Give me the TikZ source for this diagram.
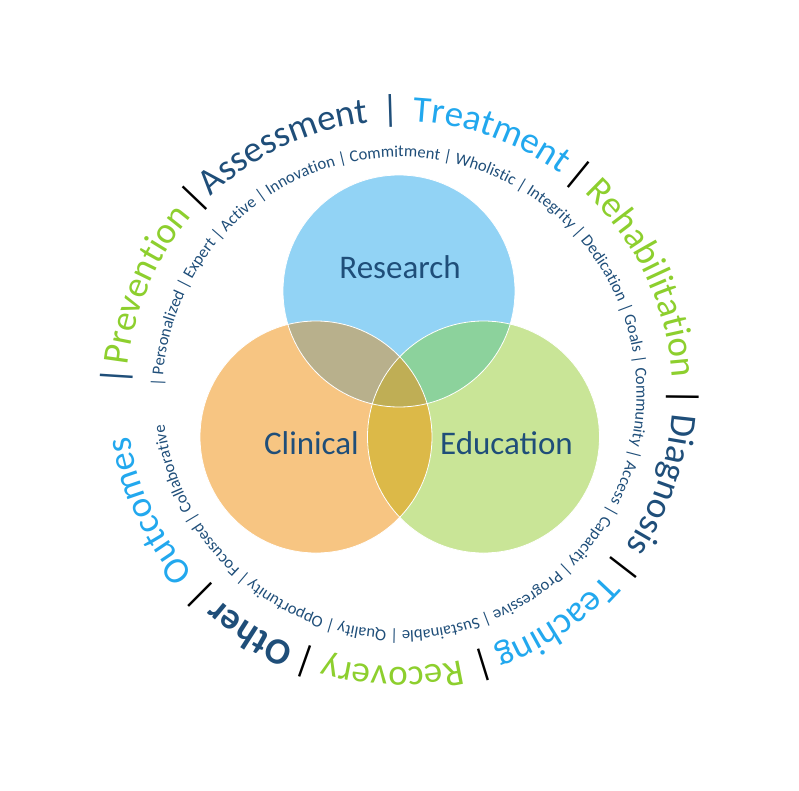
\documentclass[tikz,border=0pt]{standalone}
\usepackage{fontspec}
\setmainfont{Carlito}
\usetikzlibrary{decorations.text}
\definecolor{cnavy}{HTML}{1F4E79}
\definecolor{csky}{HTML}{22A8EE}
\definecolor{clime}{HTML}{8DCF2E}
\definecolor{cres}{HTML}{92D3F5}
\definecolor{ccli}{HTML}{F7C582}
\definecolor{cedu}{HTML}{C9E597}
\definecolor{cresCli}{HTML}{B8B08C}
\definecolor{cresEdu}{HTML}{8CD29C}
\definecolor{ccliEdu}{HTML}{DCB948}
\definecolor{call}{HTML}{BFAE55}
\tikzset{
  every picture/.style={x=1pt, y=1pt},
  label/.style={text=cnavy, font=\fontsize{33}{36}\selectfont},
  rim/.style={draw=white, line width=0.8pt},
}
% radius, middle angle, half span, format, text
\newcommand\ringtext[5]{%
  \path[decorate, decoration={text along path, text format delimiters={[}{]},
      text={[#4]#5}, text align=center}]
    (#2+#3:#1) arc[start angle=#2+#3, end angle=#2-#3, radius=#1];}
\newcommand\bigfont{\fontsize{37}{40}\selectfont}

\begin{document}
\begin{tikzpicture}
  \useasboundingbox (-399.5,-396) rectangle (399.5,394);
  \coordinate (ring) at (0,0);
  \coordinate (res) at (-0.5,103);
  \coordinate (cli) at (-83.5,-43);
  \coordinate (edu) at (84,-43);
  \def\rad{116}
  % venn
  \fill[cres] (res) circle[radius=\rad];
  \fill[ccli] (cli) circle[radius=\rad];
  \fill[cedu] (edu) circle[radius=\rad];
  \begin{scope}
    \clip (cli) circle[radius=\rad];
    \fill[ccliEdu] (edu) circle[radius=\rad];
  \end{scope}
  \begin{scope}
    \clip (res) circle[radius=\rad];
    \fill[cresCli] (cli) circle[radius=\rad];
    \fill[cresEdu] (edu) circle[radius=\rad];
    \clip (cli) circle[radius=\rad];
    \fill[call] (edu) circle[radius=\rad];
  \end{scope}
  \foreach \c in {res,cli,edu} \draw[rim] (\c) circle[radius=\rad];
  \node[label] (research) at (0.5,127) {Research};
  \node[label] (clinical) at (-88,-49) {Clinical};
  \node[label] (education) at (107,-49) {Education};
  % outer ring
  \ringtext{273}{176.4}{10}{\bigfont\color{cnavy}}{|}
  \ringtext{273}{156.7}{40}{\bigfont\color{clime}}{Prevention}
  \ringtext{273}{136.3}{10}{\bigfont\color{black}}{|}
  \ringtext{273}{115}{40}{\bigfont\color{cnavy}}{Assessment}
  \ringtext{273}{91.7}{10}{\bigfont\color{cnavy}}{|}
  \ringtext{273}{70.6}{40}{\bigfont\color{csky}}{Treatment}
  \ringtext{273}{50.8}{10}{\bigfont\color{black}}{|}
  \ringtext{273}{25.4}{40}{\bigfont\color{clime}}{Rehabilitation}
  \ringtext{273}{-0.6}{10}{\bigfont\color{black}}{|}
  \ringtext{273}{-19}{40}{\bigfont\color{cnavy}}{Diagnosis}
  \ringtext{273}{-37.7}{10}{\bigfont\color{black}}{|}
  \ringtext{273}{-55.6}{40}{\bigfont\color{csky}}{Teaching}
  \ringtext{273}{-72.8}{10}{\bigfont\color{black}}{|}
  \ringtext{273}{-91.4}{40}{\bigfont\color{clime}}{Recovery}
  \ringtext{273}{-109.4}{10}{\bigfont\color{black}}{|}
  \ringtext{273}{-122}{40}{\bigfont\bfseries\color{cnavy}}{Other}
  \ringtext{273}{-134.8}{10}{\bigfont\color{black}}{|}
  \ringtext{273}{-155}{40}{\bigfont\color{csky}}{Outcomes}
  % inner ring
  \ringtext{237}{2.9}{180}{\fontsize{16.6}{18}\selectfont\color{cnavy}}{| Personalized | Expert | Active | Innovation | Commitment | Wholistic | Integrity | Dedication | Goals | Community | Access | Capacity | Progressive | Sustainable | Quality | Opportunity | Focussed | Collaborative}
\end{tikzpicture}
\end{document}
